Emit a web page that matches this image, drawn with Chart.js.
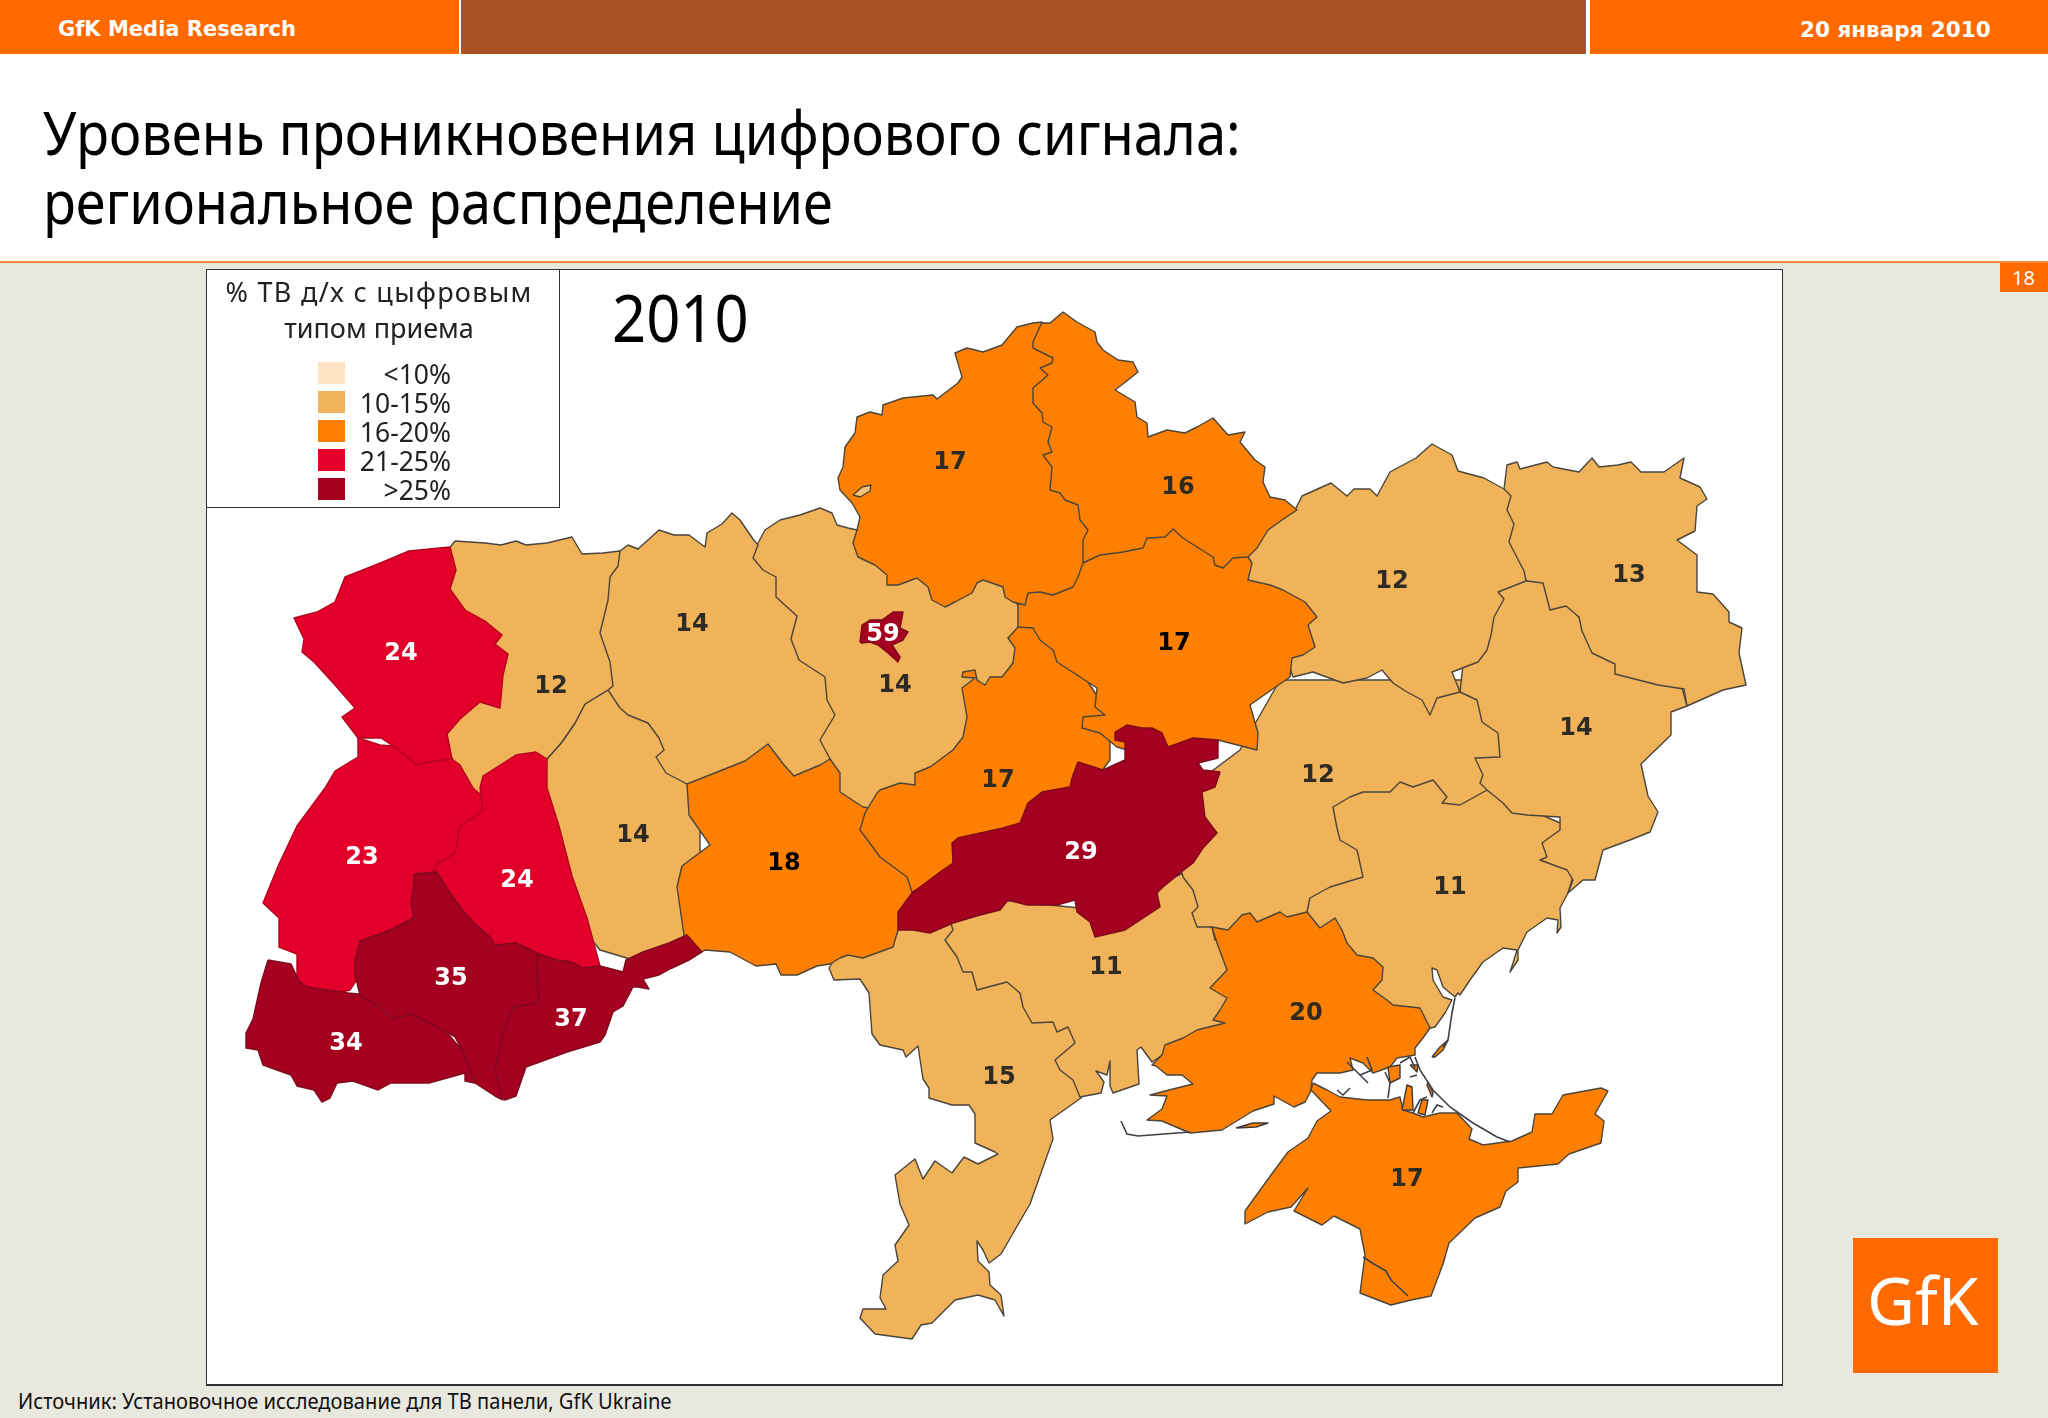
<!DOCTYPE html>
<html lang="ru">
<head>
<meta charset="utf-8">
<title>Уровень проникновения цифрового сигнала</title>
<script src="https://cdn.jsdelivr.net/npm/chart.js@4/dist/chart.umd.min.js"></script>
<style>
  html, body { margin: 0; padding: 0; background: #e8e8df; }
  #page { position: relative; width: 2048px; height: 1418px; overflow: hidden; background: #e8e8df; font-family: "Noto Sans", sans-serif; }
  #page > div, #page > canvas { position: absolute; }
  .txt { white-space: nowrap; line-height: 1; transform-origin: left center; }
  #head { left: 0; top: 0; width: 2048px; height: 262px; background: #fff; }
  #frame { left: 206px; top: 269px; width: 1575px; height: 1114px; background: #fff; border: 1px solid #333; border-bottom-width: 2px; }
  #map { left: 207px; top: 270px; }
  #legend { left: 206px; top: 269px; width: 352px; height: 237px; background: #fff; border: 1px solid #333; }
</style>
</head>
<body>
<div id="page">
  <div id="head"></div>
  <div style="left:0;top:0;width:459px;height:54px;background:#ff6a00"></div>
  <div style="left:461px;top:0;width:1125px;height:54px;background:#aa5226"></div>
  <div style="left:1590px;top:0;width:458px;height:54px;background:#ff6a00"></div>
  <div class="txt" style="left:58px;top:17px;color:#fff;font:bold 21px 'DejaVu Sans'">GfK Media Research</div>
  <div class="txt" style="left:1800px;top:17px;color:#fff;font:bold 21.5px 'DejaVu Sans'">20 января 2010</div>
  <div class="txt" style="left:43px;top:102px;color:#000;font-size:60px;transform:scaleX(.905)">Уровень проникновения цифрового сигнала:</div>
  <div class="txt" style="left:43px;top:171px;color:#000;font-size:60px;transform:scaleX(.9)">региональное распределение</div>
  <div style="left:0;top:261px;width:2048px;height:2px;background:#f58a3c"></div>
  <div style="left:2000px;top:263px;width:48px;height:29px;background:#ff6a00"></div>
  <div class="txt" style="left:2012px;top:268px;color:#fff;font-size:20px">18</div>
  <div id="frame"></div>
  <canvas id="map" width="1575" height="1114"></canvas>
  <div id="legend"></div>
  <div class="txt" style="left:612px;top:283px;color:#000;font-size:66px;transform:scaleX(.905)">2010</div>
  <div style="left:1853px;top:1238px;width:145px;height:135px;background:#ff6a00"></div>
  <div class="txt" style="left:1867px;top:1266px;color:#fff;font-size:66px">GfK</div>
  <div class="txt" style="left:18px;top:1391px;color:#111;font-size:21px;transform:scaleX(.958)">Источник: Установочное исследование для ТВ панели, GfK Ukraine</div>
</div>
<script>
// legend bins
const legendTitle = ['% ТВ д/х с цыфровым', 'типом приема'];
const legendLabels = ['<10%', '10-15%', '16-20%', '21-25%', '>25%'];
const legendColors = ['#fde3c0', '#f0b35a', '#ff8000', '#e2002a', '#a60020'];

// printed values, same order as the outlines list below (last = Kyiv city)
const regionNames = ['Одесса', 'Николаев', 'Днепропетровск', 'Запорожье', 'Херсон', 'Крым', 'Донецк', 'Луганск', 'Харьков',
  'Киевская', 'Житомир', 'Хмельницкий', 'Винница', 'Черкассы', 'Полтава', 'Сумы', 'Чернигов', 'Кировоград',
  'Ровно', 'Львов', 'Тернополь', 'Черновцы', 'Закарпатье', 'Ивано-Франковск', 'Волынь', 'Киев'];
const regionValues = [15, 11, 12, 11, 20, 17, 14, 13, 12, 14, 14, 14, 18, 17, 17, 16, 17, 29, 12, 23, 24, 37, 34, 35, 24, 59];
const regionLabelAt = [[999, 1078], [1106, 968], [1318, 776], [1450, 888], [1306, 1014], [1407, 1180], [1576, 729], [1629, 576], [1392, 582],
  [895, 686], [692, 625], [633, 836], [784, 864], [998, 781], [1174, 644], [1178, 488], [950, 463], [1081, 853],
  [551, 687], [362, 858], [517, 881], [571, 1020], [346, 1044], [451, 979], [401, 654], [883, 635]];
// these two are printed in pure black in the picture
const blackLabelRegions = ['Винница', 'Полтава'];

// map outlines in page pixels; later ones are painted over earlier ones
const outlineOdesa = [[950,920],[905,925],[880,935],[840,950],[829,968],[834,980],[860,979],[869,993],[872,1034],[880,1045],[903,1050],[906,1057],[918,1046],[923,1079],[929,1088],[929,1098],[952,1105],[969,1105],[975,1114],[975,1143],[995,1152],[998,1154],[978,1164],[964,1157],[952,1173],[935,1161],[923,1179],[915,1159],[895,1175],[900,1204],[909,1225],[895,1245],[898,1261],[883,1275],[880,1298],[886,1309],[863,1309],[860,1318],[875,1334],[912,1339],[921,1325],[932,1323],[955,1300],[978,1295],[995,1300],[1004,1316],[1001,1295],[990,1285],[989,1272],[978,1261],[977,1241],[983,1250],[989,1263],[1001,1254],[1030,1204],[1053,1139],[1050,1120],[1081,1098],[1100,1050],[1050,1000],[1000,950]];
const outlineMykolaiv = [[953,930],[945,940],[957,957],[963,972],[972,972],[977,990],[1007,982],[1020,993],[1023,1007],[1032,1023],[1053,1022],[1057,1032],[1068,1027],[1075,1043],[1055,1060],[1060,1070],[1073,1080],[1080,1097],[1101,1093],[1104,1082],[1096,1071],[1107,1075],[1110,1061],[1110,1086],[1113,1093],[1139,1084],[1137,1050],[1141,1047],[1152,1062],[1170,1050],[1235,1025],[1235,980],[1225,940],[1205,920],[1205,890],[1190,870],[1100,910],[1000,900],[950,920]];
const outlineDnipro = [[1280,680],[1400,680],[1490,680],[1520,760],[1500,790],[1450,830],[1400,840],[1370,885],[1340,900],[1320,910],[1300,930],[1230,940],[1215,940],[1212,927],[1197,927],[1192,913],[1198,907],[1193,890],[1183,877],[1182,873],[1170,860],[1200,780],[1240,750]];
const outlineZapor = [[1307,912],[1310,898],[1330,887],[1363,877],[1357,850],[1340,840],[1337,828],[1333,807],[1350,797],[1363,792],[1390,792],[1400,782],[1413,787],[1433,780],[1447,797],[1442,803],[1460,805],[1487,790],[1530,810],[1565,825],[1555,850],[1575,870],[1568,893],[1560,908],[1561,927],[1557,933],[1558,920],[1547,918],[1527,932],[1518,950],[1518,960],[1510,972],[1513,963],[1517,950],[1503,948],[1483,962],[1470,980],[1460,995],[1458,993],[1455,997],[1443,987],[1437,970],[1432,968],[1433,980],[1443,997],[1452,1000],[1445,1013],[1435,1027],[1430,1028],[1400,1050],[1350,1000],[1330,950]];
const outlineKherson = [[1307,912],[1320,928],[1335,918],[1342,930],[1347,943],[1357,955],[1373,958],[1383,967],[1382,980],[1373,990],[1387,1000],[1393,1005],[1420,1008],[1430,1028],[1423,1038],[1415,1048],[1415,1055],[1397,1058],[1390,1067],[1373,1073],[1363,1063],[1350,1058],[1353,1070],[1340,1073],[1317,1073],[1312,1080],[1311,1091],[1305,1102],[1294,1107],[1274,1096],[1274,1104],[1253,1111],[1222,1130],[1190,1133],[1162,1121],[1147,1120],[1162,1109],[1167,1096],[1150,1095],[1173,1089],[1193,1084],[1182,1075],[1167,1075],[1156,1066],[1152,1065],[1162,1055],[1165,1045],[1183,1038],[1197,1030],[1225,1023],[1213,1020],[1220,1010],[1227,998],[1210,988],[1227,970],[1217,943],[1212,927],[1228,930],[1242,915],[1250,913],[1257,922],[1280,912],[1287,917]];
const outlineCrimea = [[1313,1083],[1311,1090],[1331,1111],[1317,1121],[1308,1138],[1288,1152],[1271,1175],[1245,1211],[1245,1224],[1268,1212],[1291,1207],[1308,1188],[1294,1211],[1322,1225],[1334,1216],[1360,1229],[1365,1255],[1360,1293],[1391,1305],[1411,1300],[1431,1296],[1443,1264],[1449,1243],[1475,1218],[1500,1207],[1506,1191],[1518,1182],[1518,1168],[1558,1164],[1569,1154],[1601,1143],[1604,1121],[1595,1114],[1608,1091],[1601,1088],[1563,1095],[1552,1114],[1535,1114],[1532,1132],[1512,1141],[1483,1145],[1469,1139],[1472,1129],[1457,1113],[1440,1113],[1423,1117],[1413,1113],[1403,1110],[1400,1097],[1390,1100],[1367,1100],[1340,1097],[1327,1090]];
const outlineDonetsk = [[1460,692],[1470,600],[1500,570],[1535,570],[1600,640],[1680,680],[1687,706],[1671,712],[1671,735],[1641,764],[1648,796],[1658,812],[1650,832],[1630,840],[1603,850],[1595,880],[1583,880],[1568,893],[1573,880],[1567,870],[1540,860],[1547,857],[1542,843],[1560,830],[1560,817],[1527,815],[1512,813],[1503,803],[1487,790],[1480,783],[1483,775],[1475,758],[1500,757],[1498,733],[1482,722],[1477,700]];
const outlineLuhansk = [[1504,489],[1507,465],[1517,462],[1520,469],[1547,462],[1553,467],[1579,472],[1592,458],[1599,467],[1618,465],[1631,462],[1641,472],[1664,472],[1684,458],[1680,478],[1700,487],[1707,499],[1697,506],[1695,531],[1677,540],[1697,555],[1697,592],[1713,594],[1729,612],[1729,622],[1742,628],[1739,653],[1746,685],[1723,690],[1687,706],[1684,689],[1658,685],[1615,674],[1615,664],[1592,653],[1582,631],[1579,617],[1566,606],[1550,610],[1543,583],[1527,581],[1495,560],[1495,495]];
const outlineKharkiv = [[1295,510],[1302,496],[1331,483],[1347,496],[1354,489],[1370,489],[1377,496],[1390,472],[1416,458],[1432,444],[1452,455],[1458,471],[1484,478],[1504,489],[1511,496],[1507,510],[1514,524],[1509,542],[1524,571],[1526,581],[1498,592],[1504,599],[1494,617],[1491,635],[1487,650],[1478,662],[1452,672],[1460,692],[1437,698],[1430,715],[1422,700],[1407,692],[1393,683],[1382,670],[1367,678],[1343,683],[1313,672],[1293,677],[1280,640],[1240,590],[1240,560],[1260,530],[1285,512]];
const outlineKyivObl = [[758,543],[765,530],[780,520],[800,515],[820,508],[832,513],[837,525],[848,528],[857,530],[880,540],[1000,570],[1020,610],[1022,650],[995,690],[985,695],[975,720],[950,770],[900,800],[868,812],[835,800],[820,770],[800,700],[770,620],[750,560]];
const outlineZhytomyr = [[620,551],[628,545],[638,549],[659,530],[674,535],[689,535],[705,547],[707,533],[722,524],[732,513],[740,520],[753,539],[758,545],[753,558],[763,570],[776,577],[776,597],[797,616],[791,639],[799,660],[825,677],[827,700],[835,715],[820,740],[830,759],[830,775],[750,790],[695,795],[660,790],[640,760],[600,700],[590,640],[600,560]];
const outlineKhmelnytskyi = [[608,690],[620,708],[628,715],[648,723],[659,738],[664,750],[656,757],[666,773],[687,784],[700,800],[700,880],[700,950],[650,965],[600,950],[560,900],[530,770],[547,759],[562,742],[575,723],[585,704]];
const outlineVinnytsia = [[687,784],[745,761],[768,744],[784,765],[794,776],[820,765],[830,759],[840,773],[840,792],[863,807],[880,810],[890,840],[930,870],[915,900],[905,925],[898,930],[893,947],[863,958],[848,955],[840,958],[830,964],[817,966],[797,975],[781,975],[776,964],[756,966],[730,952],[705,950],[689,960],[684,935],[677,887],[682,866],[710,845],[689,815]];
const outlineCherkasy = [[1018,627],[1008,638],[1015,648],[1013,663],[1002,677],[990,677],[985,685],[977,680],[975,670],[963,672],[962,677],[975,678],[962,688],[967,717],[963,737],[953,750],[930,767],[915,773],[915,785],[900,783],[880,790],[877,793],[865,813],[860,830],[880,857],[907,877],[912,892],[940,880],[1000,860],[1080,800],[1110,760],[1110,722],[1100,700],[1060,640],[1030,615]];
const outlinePoltava = [[1018,605],[1018,627],[1033,628],[1040,640],[1053,650],[1057,662],[1077,675],[1097,688],[1095,707],[1105,715],[1083,717],[1082,728],[1100,733],[1117,747],[1187,767],[1218,743],[1218,740],[1257,750],[1258,733],[1250,705],[1267,693],[1290,677],[1292,658],[1303,655],[1315,647],[1308,625],[1317,617],[1305,602],[1283,590],[1270,585],[1248,580],[1252,563],[1248,557],[1220,547],[1173,523],[1120,540],[1073,567],[1027,587]];
const outlineSumy = [[1033,323],[1042,323],[1050,323],[1063,312],[1077,322],[1095,332],[1097,342],[1103,350],[1118,360],[1133,362],[1138,372],[1128,380],[1115,390],[1135,402],[1137,417],[1147,423],[1148,437],[1167,430],[1185,433],[1197,427],[1213,418],[1228,435],[1245,432],[1240,442],[1255,460],[1265,467],[1263,482],[1270,497],[1285,500],[1297,510],[1282,520],[1268,530],[1257,548],[1248,557],[1233,558],[1223,568],[1215,565],[1213,557],[1197,547],[1183,538],[1173,529],[1165,537],[1147,538],[1143,548],[1123,552],[1100,555],[1083,563],[1080,533],[1047,493],[1040,433],[1030,400],[1030,343],[1032,325]];
const outlineChernihiv = [[1033,323],[1042,322],[1033,342],[1033,348],[1053,358],[1052,363],[1040,368],[1048,375],[1033,388],[1033,403],[1042,413],[1043,422],[1052,427],[1048,442],[1052,452],[1043,455],[1052,467],[1050,490],[1060,493],[1065,500],[1078,505],[1080,520],[1088,530],[1083,540],[1083,563],[1078,577],[1073,587],[1053,595],[1040,592],[1028,593],[1025,605],[1013,602],[1005,597],[1003,587],[992,583],[983,580],[977,583],[972,593],[955,602],[945,607],[932,600],[928,587],[917,578],[898,585],[887,585],[887,575],[875,565],[858,557],[853,543],[857,530],[860,517],[852,503],[840,490],[838,478],[843,467],[845,447],[855,433],[857,417],[870,412],[882,415],[883,405],[903,398],[933,395],[937,399],[958,383],[962,377],[955,353],[967,348],[983,352],[1002,345],[1017,327]];
const outlineKirovohrad = [[1115,732],[1127,725],[1142,728],[1152,728],[1162,733],[1168,747],[1193,738],[1218,740],[1218,758],[1198,763],[1203,770],[1220,772],[1215,787],[1202,792],[1205,817],[1217,833],[1203,848],[1193,863],[1180,873],[1163,887],[1157,893],[1160,907],[1125,930],[1095,937],[1090,922],[1077,912],[1075,900],[1057,905],[1027,905],[1008,900],[1000,910],[980,915],[953,923],[930,933],[913,930],[898,930],[898,912],[912,893],[940,872],[953,863],[952,843],[958,838],[1003,828],[1020,823],[1028,803],[1042,792],[1070,787],[1072,778],[1078,762],[1103,770],[1125,760],[1125,742],[1115,740]];
const outlineRivne = [[455,541],[485,543],[501,545],[516,541],[526,545],[547,543],[572,537],[582,554],[603,553],[620,551],[618,566],[610,577],[608,600],[600,633],[610,662],[613,686],[608,690],[585,704],[575,723],[562,742],[547,759],[540,775],[490,800],[470,795],[455,765],[440,730],[480,680],[440,560]];
const outlineLviv = [[380,745],[440,750],[452,759],[460,765],[473,788],[480,794],[500,830],[470,880],[430,900],[370,960],[350,990],[310,1000],[297,985],[297,979],[297,954],[279,947],[279,918],[263,903],[279,864],[297,826],[325,788],[335,771],[358,757],[358,738]];
const outlineTernopil = [[536,752],[547,759],[547,788],[559,826],[572,876],[587,918],[600,966],[560,985],[480,960],[450,950],[420,900],[437,864],[455,853],[460,826],[483,811],[480,788],[483,776],[516,755]];
const outlineChernivtsi = [[530,955],[539,954],[557,960],[572,962],[582,968],[600,966],[623,972],[626,960],[643,952],[669,943],[687,935],[702,952],[689,960],[672,968],[659,975],[643,979],[649,989],[638,987],[633,987],[623,1006],[613,1012],[605,1035],[600,1042],[567,1052],[526,1067],[516,1096],[505,1100],[490,1080],[495,1030],[525,975]];
const outlineZakarpattia = [[268,960],[291,964],[299,981],[307,987],[348,993],[420,1000],[470,1060],[485,1085],[465,1081],[465,1073],[429,1083],[391,1083],[378,1090],[353,1081],[337,1083],[330,1098],[322,1102],[314,1090],[297,1086],[291,1075],[263,1065],[258,1050],[246,1048],[246,1033],[253,1019],[261,983]];
const outlineFrankivsk = [[414,874],[437,872],[450,893],[460,907],[473,922],[490,937],[495,945],[516,943],[539,954],[536,960],[539,1002],[513,1008],[503,1033],[495,1071],[503,1100],[495,1096],[475,1083],[465,1056],[455,1037],[434,1025],[411,1014],[393,1019],[378,1006],[360,995],[355,975],[355,960],[360,941],[388,931],[414,918],[411,903],[414,884]];
const outlineVolyn = [[450,547],[456,570],[450,589],[465,610],[485,621],[502,635],[495,644],[508,654],[503,675],[500,708],[480,702],[460,719],[447,734],[452,759],[434,761],[416,765],[399,750],[381,738],[358,738],[342,717],[355,708],[335,685],[314,662],[302,652],[304,639],[294,618],[317,612],[335,602],[345,577],[378,564],[409,551]];
const outlineKyivCity = [[860,642],[862,625],[870,620],[882,620],[893,612],[903,612],[900,628],[908,632],[903,640],[892,645],[900,657],[898,662],[888,653],[878,645],[870,642],[862,643]];

const regionOutlines = [outlineOdesa, outlineMykolaiv, outlineDnipro, outlineZapor, outlineKherson, outlineCrimea, outlineDonetsk, outlineLuhansk, outlineKharkiv,
  outlineKyivObl, outlineZhytomyr, outlineKhmelnytskyi, outlineVinnytsia, outlineCherkasy, outlinePoltava, outlineSumy, outlineChernihiv, outlineKirovohrad,
  outlineRivne, outlineLviv, outlineTernopil, outlineChernivtsi, outlineZakarpattia, outlineFrankivsk, outlineVolyn, outlineKyivCity];

// small islands and the lake in the north
const lakeOutline = [[853,495],[862,487],[871,485],[870,491],[860,497]];
const islandOutlines = [
  [[1432,1057],[1440,1047],[1448,1040],[1443,1050],[1435,1057]],
  [[1236,1128],[1253,1123],[1268,1123],[1256,1127]],
  [[1390,1083],[1388,1067],[1400,1065],[1400,1078]],
  [[1428,1082],[1433,1093],[1432,1097],[1427,1085]],
  [[1410,1065],[1418,1065],[1417,1072]],
  [[1402,1110],[1407,1085],[1412,1087],[1413,1110]],
  [[1418,1113],[1422,1100],[1428,1100],[1425,1115]]
];
// spits, marsh and inner boundary lines, not filled
const shoreLines = [
  [[1415,1057],[1420,1070],[1433,1090],[1450,1107],[1473,1123],[1497,1137],[1510,1142]],
  [[1455,998],[1452,1013],[1448,1040],[1443,1047]],
  [[1121,1121],[1127,1134],[1138,1136],[1190,1132]],
  [[1347,1062],[1355,1070],[1363,1078],[1368,1083]],
  [[1367,1057],[1372,1070],[1360,1075]],
  [[1385,1072],[1390,1083],[1388,1098]],
  [[1337,1090],[1343,1095],[1350,1088]],
  [[1400,1063],[1410,1057],[1415,1068]],
  [[1410,1077],[1417,1075]],
  [[1413,1113],[1420,1100],[1427,1097]],
  [[1432,1113],[1437,1105],[1443,1107]],
  [[1363,1257],[1374,1264],[1386,1271],[1391,1280],[1408,1296]]
];

function binIndex(v) {
  if (v < 10) return 0;
  if (v <= 15) return 1;
  if (v <= 20) return 2;
  if (v <= 25) return 3;
  return 4;
}

function borderColor(v) {
  if (v > 25) return '#7c0a1c';
  if (v > 20) return '#b5001f';
  return '#4a443a';
}

function toPoints(outline, closed) {
  var pts = outline.map(function(p) { return { x: p[0], y: p[1] }; });
  if (closed) pts.push({ x: outline[0][0], y: outline[0][1] });
  return pts;
}

function polygon(label, outline, fillColor, lineColor) {
  return {
    label: label,
    data: toPoints(outline, true),
    showLine: true,
    fill: 'shape',
    backgroundColor: fillColor,
    borderColor: lineColor,
    borderWidth: 1.4,
    borderJoinStyle: 'round',
    pointRadius: 0,
    tension: 0
  };
}

// build datasets in paint order
var datasets = regionOutlines.map(function(outline, i) {
  return polygon(regionNames[i], outline, legendColors[binIndex(regionValues[i])], borderColor(regionValues[i]));
});
datasets.push(polygon('lake', lakeOutline, '#f6c27a', '#4a443a'));
islandOutlines.forEach(function(outline, i) {
  datasets.push(polygon('island' + i, outline, legendColors[2], '#3c3a38'));
});
shoreLines.forEach(function(line, i) {
  datasets.push({
    label: 'shore' + i,
    data: toPoints(line, false),
    showLine: true,
    fill: false,
    borderColor: '#3c4048',
    borderWidth: 1.6,
    pointRadius: 0,
    tension: 0
  });
});
// chart.js paints low order last
datasets.forEach(function(ds, i) { ds.order = datasets.length - i; });

// value labels on top of the regions
var regionValuePlugin = {
  id: 'regionValues',
  afterDatasetsDraw: function(chart) {
    var ctx = chart.ctx;
    ctx.save();
    ctx.font = 'bold 24px "DejaVu Sans"';
    ctx.textAlign = 'center';
    ctx.textBaseline = 'middle';
    regionValues.forEach(function(v, i) {
      ctx.fillStyle = v > 20 ? '#ffffff' : (blackLabelRegions.indexOf(regionNames[i]) >= 0 ? '#000000' : '#2e2a24');
      ctx.fillText(String(v), chart.scales.x.getPixelForValue(regionLabelAt[i][0]), chart.scales.y.getPixelForValue(regionLabelAt[i][1]));
    });
    ctx.restore();
  }
};

new Chart(document.getElementById('map'), {
  type: 'scatter',
  data: { datasets: datasets },
  plugins: [regionValuePlugin],
  options: {
    responsive: false,
    animation: false,
    layout: { padding: 0 },
    scales: {
      x: { type: 'linear', display: false, min: 207, max: 1782 },
      y: { type: 'linear', display: false, min: 270, max: 1384, reverse: true }
    },
    plugins: {
      legend: { display: false },
      tooltip: { enabled: false }
    }
  }
});

// html legend box
var legendBox = document.getElementById('legend');
legendTitle.forEach(function(line, i) {
  var el = document.createElement('div');
  el.textContent = line;
  el.style.cssText = 'position:absolute;left:-4px;width:352px;text-align:center;color:#222;font-size:27px;line-height:1;top:' + (8 + i * 36) + 'px;letter-spacing:' + (i === 0 ? 1.3 : 0) + 'px';
  legendBox.appendChild(el);
});
legendLabels.forEach(function(label, i) {
  var swatch = document.createElement('div');
  swatch.style.cssText = 'position:absolute;left:111px;width:27px;height:22px;top:' + (92 + i * 29) + 'px;background:' + legendColors[i];
  legendBox.appendChild(swatch);
  var el = document.createElement('div');
  el.textContent = label;
  el.style.cssText = 'position:absolute;right:108px;color:#222;font-size:26.5px;line-height:1;top:' + (91 + i * 29) + 'px';
  legendBox.appendChild(el);
});
</script>
</body>
</html>
